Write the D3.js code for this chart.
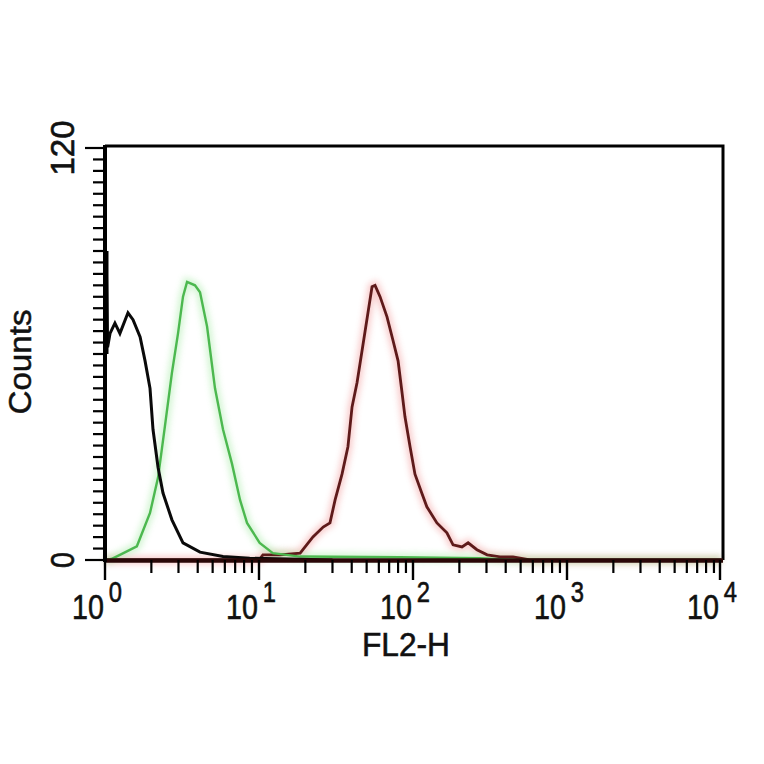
<!DOCTYPE html>
<html><head><meta charset="utf-8">
<script src="https://cdn.jsdelivr.net/npm/d3@7"></script>
<style>html,body{margin:0;padding:0;background:#fff;}svg{display:block;}</style>
</head><body>
<svg id="chart" width="764" height="764"></svg>
<script>
// ---- data (channel value, counts) ----
const controlCurve = [
  [1.00, 0], [1.00, 90], [1.01, 60], [1.02, 86], [1.04, 62], [1.078, 66], [1.16, 69],
  [1.25, 66], [1.41, 72], [1.52, 70], [1.69, 65], [1.82, 58], [1.96, 50], [2.05, 38],
  [2.21, 27], [2.38, 19.5], [2.72, 11.7], [3.21, 5], [4.14, 2.3], [5.84, 1], [8.7, 0.5],
  [18.5, 0.2], [30, 0]
];
const isotypeCurve = [
  [1.0, 0], [1.1, 0.3], [1.25, 1.5], [1.61, 4], [1.96, 13.7], [2.21, 24], [2.45, 39],
  [2.72, 54.5], [2.98, 66], [3.21, 76.7], [3.41, 81], [3.84, 80], [4.14, 78], [4.60, 68],
  [5.18, 50], [5.84, 38], [6.68, 28], [7.53, 17.5], [8.36, 10.8], [10.1, 5], [12.3, 2],
  [18.5, 1], [82, 0.8], [272, 0.5], [494, 0], [10000, 0]
];
const stainedCurve = [
  [1.0, 0], [10.0, 0], [10.6, 1.5], [13.7, 1.5], [18.5, 2], [22.4, 6.7], [26.1, 9.6],
  [28.9, 10.8], [31.2, 17.5], [34.6, 25], [37.8, 33], [40.2, 44.6], [43.3, 51.6],
  [46.7, 61], [51.0, 72], [54.2, 79.6], [56.7, 80], [61.1, 76.7], [67.8, 70.8],
  [74.1, 64], [80.0, 58], [84.9, 48.7], [88.7, 41.7], [95.7, 33], [103, 25], [114, 19.5],
  [123, 15.5], [143, 10.8], [166, 7.9], [182, 4.4], [208, 3.8], [228, 5], [260, 3],
  [303, 1.5], [367, 0.9], [446, 0.9], [575, 0], [10000, 0]
];
const xDecades = [1, 10, 100, 1000, 10000];
const xExponents = ["0", "1", "2", "3", "4"];
const yTickLabels = [0, 120];
const yTickStep = 120 / 36;
const xLabel = "FL2-H";
const yLabel = "Counts";

// ---- layout ----
const svg = d3.select("#chart");
const x = d3.scaleLog().domain([1, 10000]).range([105, 721]);
const y = d3.scaleLinear().domain([0, 120]).range([560, 148]);
const frameTop = 146, frameRight = 723;

const defs = svg.append("defs");
defs.append("filter").attr("id", "blur").attr("x", "-20%").attr("y", "-20%")
  .attr("width", "140%").attr("height", "140%")
  .append("feGaussianBlur").attr("stdDeviation", 3);

const line = d3.line().x(d => x(d[0])).y(d => y(d[1]));

const curves = [
  {data: stainedCurve, color: "#5e1a1a", glow: "#f08a8a", w: 2.8},
  {data: isotypeCurve, color: "#4cb84f", glow: "#9be89b", w: 2.4},
  {data: controlCurve, color: "#0a0a0a", glow: null, w: 3}
];
curves.filter(c => c.glow).forEach(c => {
  svg.append("path").attr("d", line(c.data)).attr("fill", "none")
    .attr("stroke", c.glow).attr("stroke-width", 8).attr("opacity", 0.45)
    .attr("filter", "url(#blur)");
});
curves.forEach(c => {
  svg.append("path").attr("d", line(c.data)).attr("fill", "none")
    .attr("stroke", c.color).attr("stroke-width", c.w).attr("stroke-linejoin", "miter");
});

// frame
svg.append("path")
  .attr("d", `M${x(1)},${frameTop}H${frameRight}V${y(0)}`)
  .attr("fill", "none").attr("stroke", "#000").attr("stroke-width", 3);
svg.append("line").attr("x1", x(1)).attr("x2", frameRight).attr("y1", y(0) + 0.5).attr("y2", y(0) + 0.5)
  .attr("stroke", "#2a0707").attr("stroke-width", 4.5);
svg.append("line").attr("x1", x(1)).attr("x2", x(1)).attr("y1", frameTop - 1).attr("y2", y(0) + 2)
  .attr("stroke", "#000").attr("stroke-width", 4);
svg.append("line").attr("x1", x(1) + 1).attr("x2", x(1) + 1).attr("y1", y(90)).attr("y2", y(60))
  .attr("stroke", "#000").attr("stroke-width", 5);

// y ticks
const yTicks = d3.range(0, 37).map(i => i * yTickStep);
svg.append("g").selectAll("line").data(yTicks).join("line")
  .attr("x1", (d, i) => (i === 0 || i === 36) ? 85 : 93)
  .attr("x2", x(1))
  .attr("y1", d => y(d)).attr("y2", d => y(d))
  .attr("stroke", "#000").attr("stroke-width", 2.2);

// x ticks
const xMinor = [];
xDecades.slice(0, -1).forEach(d => { for (let k = 2; k <= 9; k++) xMinor.push(d * k); });
svg.append("g").selectAll("line").data(xMinor).join("line")
  .attr("x1", d => x(d)).attr("x2", d => x(d)).attr("y1", y(0)).attr("y2", 573)
  .attr("stroke", "#000").attr("stroke-width", 2.2);
svg.append("g").selectAll("line").data(xDecades).join("line")
  .attr("x1", d => Math.min(x(d), frameRight - 3)).attr("x2", d => Math.min(x(d), frameRight - 3))
  .attr("y1", y(0)).attr("y2", 580)
  .attr("stroke", "#000").attr("stroke-width", 2.4);

const font = "'Liberation Sans', Arial, sans-serif";
const sx = 0.82;
xDecades.forEach((d, i) => {
  const tx = Math.min(x(d), frameRight - 3);
  const t = svg.append("text")
    .attr("transform", `translate(${tx - 1},619) scale(${sx},1)`)
    .attr("font-family", font).attr("font-size", 35).attr("fill", "#111")
    .attr("stroke", "#111").attr("stroke-width", 0.6)
    .attr("x", -39);
  t.append("tspan").text("10");
  t.append("tspan").attr("dx", 6).attr("dy", -17).attr("font-size", 29).text(xExponents[i]);
});
yTickLabels.forEach(v => {
  const w = String(v).length === 1 ? 16 : 55;
  svg.append("text").attr("transform", `translate(74,${y(v)}) rotate(-90)`)
    .attr("text-anchor", "middle").attr("font-family", font).attr("font-size", 33)
    .attr("textLength", w).attr("lengthAdjust", "spacingAndGlyphs").attr("fill", "#111")
    .attr("stroke", "#111").attr("stroke-width", 0.6)
    .text(v);
});
svg.append("text").attr("x", 406).attr("y", 656).attr("text-anchor", "middle")
  .attr("font-family", font).attr("font-size", 33).attr("textLength", 88)
  .attr("lengthAdjust", "spacingAndGlyphs").attr("fill", "#111")
  .attr("stroke", "#111").attr("stroke-width", 0.6).text(xLabel);
svg.append("text").attr("transform", "translate(31,362) rotate(-90)")
  .attr("text-anchor", "middle").attr("font-family", font).attr("font-size", 31)
  .attr("textLength", 105).attr("lengthAdjust", "spacingAndGlyphs").attr("fill", "#111")
  .attr("stroke", "#111").attr("stroke-width", 0.5)
  .text(yLabel);
</script>
</body></html>
